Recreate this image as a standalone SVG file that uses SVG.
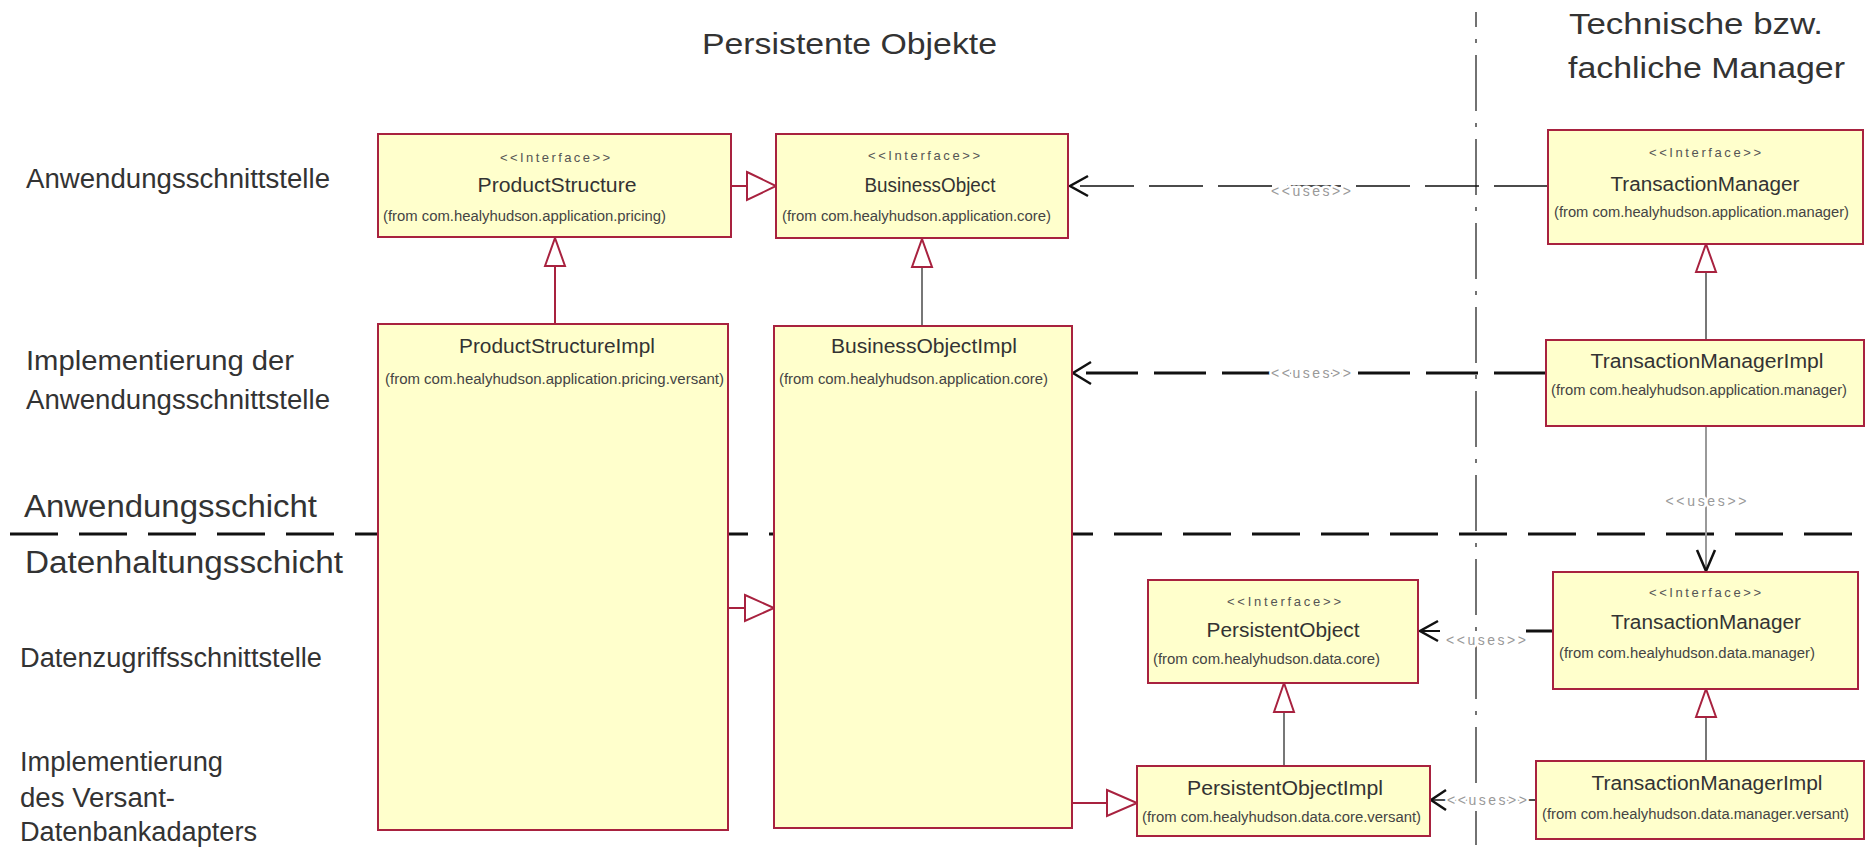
<svg xmlns="http://www.w3.org/2000/svg" width="1872" height="850" viewBox="0 0 1872 850">
<style>
text{font-family:"Liberation Sans",Arial,sans-serif}
.title{font-size:30px;fill:#333}
.side{font-size:27px;fill:#333}
.layer{font-size:31px;fill:#333}
.box{fill:#FFFFCC;stroke:#A8223F;stroke-width:2}
.st{font-size:13px;fill:#555;text-anchor:middle}
.nm{font-size:20px;fill:#333;text-anchor:middle}
.fr{font-size:14px;fill:#444}
.uses{font-size:14px;fill:#999;text-anchor:middle;stroke:#fff;stroke-width:5px;paint-order:stroke;stroke-linejoin:round}
.gen{fill:none;stroke:#A8223F;stroke-width:2}
.genl{stroke:#777;stroke-width:2;fill:none}
.tri{fill:#fff;stroke:#A8223F;stroke-width:2}
.dep{fill:none;stroke:#111}
.arr{fill:none;stroke:#111;stroke-width:2.5}
</style>

<g id="layers">
<line x1="10" y1="534" x2="1872" y2="534" stroke="#111" stroke-width="3" stroke-dasharray="48 21"/>
<line x1="1476" y1="12" x2="1476" y2="845" stroke="#444" stroke-width="1.5" stroke-dasharray="56 12 4 12" stroke-dashoffset="41"/>
</g>

<g id="labels">
<text class="title" x="702" y="54" textLength="295" lengthAdjust="spacingAndGlyphs">Persistente Objekte</text>
<text class="title" x="1569" y="34" textLength="254" lengthAdjust="spacingAndGlyphs">Technische bzw.</text>
<text class="title" x="1568" y="78" textLength="277" lengthAdjust="spacingAndGlyphs">fachliche Manager</text>
<text class="side" x="26" y="188" textLength="304" lengthAdjust="spacingAndGlyphs">Anwendungsschnittstelle</text>
<text class="side" x="26" y="370" textLength="268" lengthAdjust="spacingAndGlyphs">Implementierung der</text>
<text class="side" x="26" y="409" textLength="304" lengthAdjust="spacingAndGlyphs">Anwendungsschnittstelle</text>
<text class="layer" x="24" y="517" textLength="293" lengthAdjust="spacingAndGlyphs">Anwendungsschicht</text>
<text class="layer" x="25" y="573" textLength="318" lengthAdjust="spacingAndGlyphs">Datenhaltungsschicht</text>
<text class="side" x="20" y="667" textLength="302" lengthAdjust="spacingAndGlyphs">Datenzugriffsschnittstelle</text>
<text class="side" x="20" y="771" textLength="203" lengthAdjust="spacingAndGlyphs">Implementierung</text>
<text class="side" x="20" y="807" textLength="155" lengthAdjust="spacingAndGlyphs">des Versant-</text>
<text class="side" x="20" y="841" textLength="237" lengthAdjust="spacingAndGlyphs">Datenbankadapters</text>
</g>

<g id="connectors">
<line class="gen" x1="731" y1="186" x2="747" y2="186"/>
<polygon class="tri" points="747,172 776,186 747,200"/>
<line class="gen" x1="555" y1="266" x2="555" y2="324"/>
<polygon class="tri" points="545,266 555,238 565,266"/>
<line class="genl" x1="922" y1="267" x2="922" y2="326"/>
<polygon class="tri" points="912,267 922,239 932,267"/>
<line class="gen" x1="728" y1="608" x2="745" y2="608"/>
<polygon class="tri" points="745,595 774,608 745,621"/>
<line class="gen" x1="1072" y1="803" x2="1107" y2="803"/>
<polygon class="tri" points="1107,790 1137,803 1107,816"/>
<line class="genl" x1="1284" y1="712" x2="1284" y2="766"/>
<polygon class="tri" points="1274,712 1284,683 1294,712"/>
<line class="genl" x1="1706" y1="272" x2="1706" y2="340"/>
<polygon class="tri" points="1696,272 1706,244 1716,272"/>
<line class="genl" x1="1706" y1="717" x2="1706" y2="761"/>
<polygon class="tri" points="1696,717 1706,689 1716,717"/>

<line class="dep" x1="1548" y1="186" x2="1070" y2="186" stroke-width="1.5" stroke-dasharray="54 15"/>
<polyline class="arr" points="1088,176 1070,186 1088,196"/>
<text class="uses" x="1311" y="196" textLength="80">&lt;&lt;uses&gt;&gt;</text>

<line class="dep" x1="1546" y1="373" x2="1073" y2="373" stroke-width="3" stroke-dasharray="52 16"/>
<polyline class="arr" points="1091,362 1073,373 1091,384"/>
<text class="uses" x="1311" y="378" textLength="80">&lt;&lt;uses&gt;&gt;</text>

<line x1="1706" y1="426" x2="1706" y2="571" stroke="#999" stroke-width="2"/>
<polyline class="arr" points="1697,550 1706,571 1715,550"/>
<text class="uses" x="1706" y="506" textLength="81">&lt;&lt;uses&gt;&gt;</text>

<line class="dep" x1="1553" y1="631" x2="1526" y2="631" stroke-width="3"/>
<line class="dep" x1="1440" y1="631" x2="1420" y2="631" stroke-width="2"/>
<polyline class="arr" points="1438,621 1420,631 1438,641"/>
<text class="uses" x="1486" y="645" textLength="80">&lt;&lt;uses&gt;&gt;</text>

<line class="dep" x1="1536" y1="800" x2="1431" y2="800" stroke-width="1.5"/>
<polyline class="arr" points="1446,790 1431,800 1446,810"/>
<text class="uses" x="1487" y="805" textLength="80">&lt;&lt;uses&gt;&gt;</text>
</g>

<g id="n_ps">
<rect class="box" x="378" y="134" width="353" height="103"/>
<text class="st" x="555" y="162" textLength="110">&lt;&lt;Interface&gt;&gt;</text>
<text class="nm" x="557" y="192" textLength="159" lengthAdjust="spacingAndGlyphs">ProductStructure</text>
<text class="fr" x="383" y="221" textLength="283" lengthAdjust="spacingAndGlyphs">(from com.healyhudson.application.pricing)</text>
</g>
<g id="n_bo">
<rect class="box" x="776" y="134" width="292" height="104"/>
<text class="st" x="924" y="160" textLength="112">&lt;&lt;Interface&gt;&gt;</text>
<text class="nm" x="930" y="192" textLength="131" lengthAdjust="spacingAndGlyphs">BusinessObject</text>
<text class="fr" x="782" y="221" textLength="269" lengthAdjust="spacingAndGlyphs">(from com.healyhudson.application.core)</text>
</g>
<g id="n_tma">
<rect class="box" x="1548" y="130" width="315" height="114"/>
<text class="st" x="1705" y="157" textLength="112">&lt;&lt;Interface&gt;&gt;</text>
<text class="nm" x="1705" y="191" textLength="189" lengthAdjust="spacingAndGlyphs">TransactionManager</text>
<text class="fr" x="1554" y="217" textLength="295" lengthAdjust="spacingAndGlyphs">(from com.healyhudson.application.manager)</text>
</g>
<g id="n_psi">
<rect class="box" x="378" y="324" width="350" height="506"/>
<text class="nm" x="557" y="353" textLength="196" lengthAdjust="spacingAndGlyphs">ProductStructureImpl</text>
<text class="fr" x="385" y="384" textLength="339" lengthAdjust="spacingAndGlyphs">(from com.healyhudson.application.pricing.versant)</text>
</g>
<g id="n_boi">
<rect class="box" x="774" y="326" width="298" height="502"/>
<text class="nm" x="924" y="353" textLength="186" lengthAdjust="spacingAndGlyphs">BusinessObjectImpl</text>
<text class="fr" x="779" y="384" textLength="269" lengthAdjust="spacingAndGlyphs">(from com.healyhudson.application.core)</text>
</g>
<g id="n_tmai">
<rect class="box" x="1546" y="340" width="318" height="86"/>
<text class="nm" x="1707" y="368" textLength="233" lengthAdjust="spacingAndGlyphs">TransactionManagerImpl</text>
<text class="fr" x="1551" y="395" textLength="296" lengthAdjust="spacingAndGlyphs">(from com.healyhudson.application.manager)</text>
</g>
<g id="n_po">
<rect class="box" x="1148" y="580" width="270" height="103"/>
<text class="st" x="1284" y="606" textLength="114">&lt;&lt;Interface&gt;&gt;</text>
<text class="nm" x="1283" y="637" textLength="153" lengthAdjust="spacingAndGlyphs">PersistentObject</text>
<text class="fr" x="1153" y="664" textLength="227" lengthAdjust="spacingAndGlyphs">(from com.healyhudson.data.core)</text>
</g>
<g id="n_tmd">
<rect class="box" x="1553" y="572" width="305" height="117"/>
<text class="st" x="1705" y="597" textLength="112">&lt;&lt;Interface&gt;&gt;</text>
<text class="nm" x="1706" y="629" textLength="190" lengthAdjust="spacingAndGlyphs">TransactionManager</text>
<text class="fr" x="1559" y="658" textLength="256" lengthAdjust="spacingAndGlyphs">(from com.healyhudson.data.manager)</text>
</g>
<g id="n_poi">
<rect class="box" x="1137" y="766" width="293" height="70"/>
<text class="nm" x="1285" y="795" textLength="196" lengthAdjust="spacingAndGlyphs">PersistentObjectImpl</text>
<text class="fr" x="1142" y="822" textLength="279" lengthAdjust="spacingAndGlyphs">(from com.healyhudson.data.core.versant)</text>
</g>
<g id="n_tmdi">
<rect class="box" x="1536" y="761" width="328" height="78"/>
<text class="nm" x="1707" y="790" textLength="231" lengthAdjust="spacingAndGlyphs">TransactionManagerImpl</text>
<text class="fr" x="1542" y="819" textLength="307" lengthAdjust="spacingAndGlyphs">(from com.healyhudson.data.manager.versant)</text>
</g>
</svg>
